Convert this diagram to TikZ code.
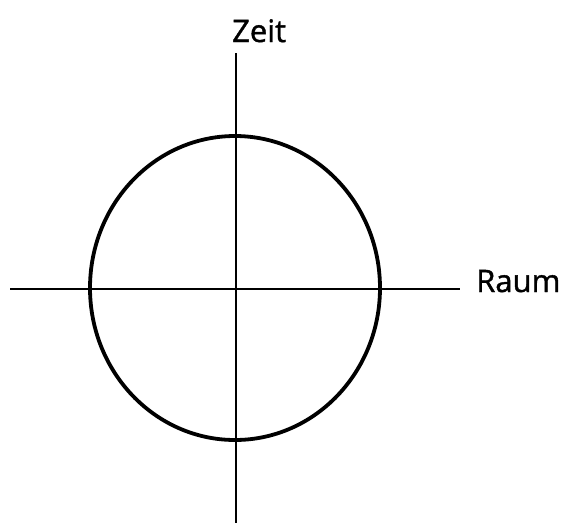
\documentclass[tikz,border=0pt]{standalone}
\usepackage{fontspec}
\setmainfont{Open Sans}
\newfontfamily\labfont{Open Sans}[FakeBold=1.2]
\begin{document}
\begin{tikzpicture}[x=1pt,y=-1pt,
  axis/.style={line width=1.2pt,black},
  ring/.style={line width=3.8pt,black},
  lab/.style={font=\labfont\fontsize{31}{36}\selectfont,inner sep=0pt,anchor=base west}]
\useasboundingbox (0,0) rectangle (563,523);
\coordinate (vt) at (236,53);
\coordinate (vb) at (236,523);
\coordinate (hl) at (10,289);
\coordinate (hr) at (460,289);
\coordinate (c) at (235,288);
\draw[axis] (vt) -- (vb);
\draw[axis] (hl) -- (hr);
\draw[ring] (c) ellipse [x radius=145, y radius=152];
\node[lab] (zeit) at (232,42) {Zeit};
\node[lab] (raum) at (476,292) {Raum};
\end{tikzpicture}
\end{document}
